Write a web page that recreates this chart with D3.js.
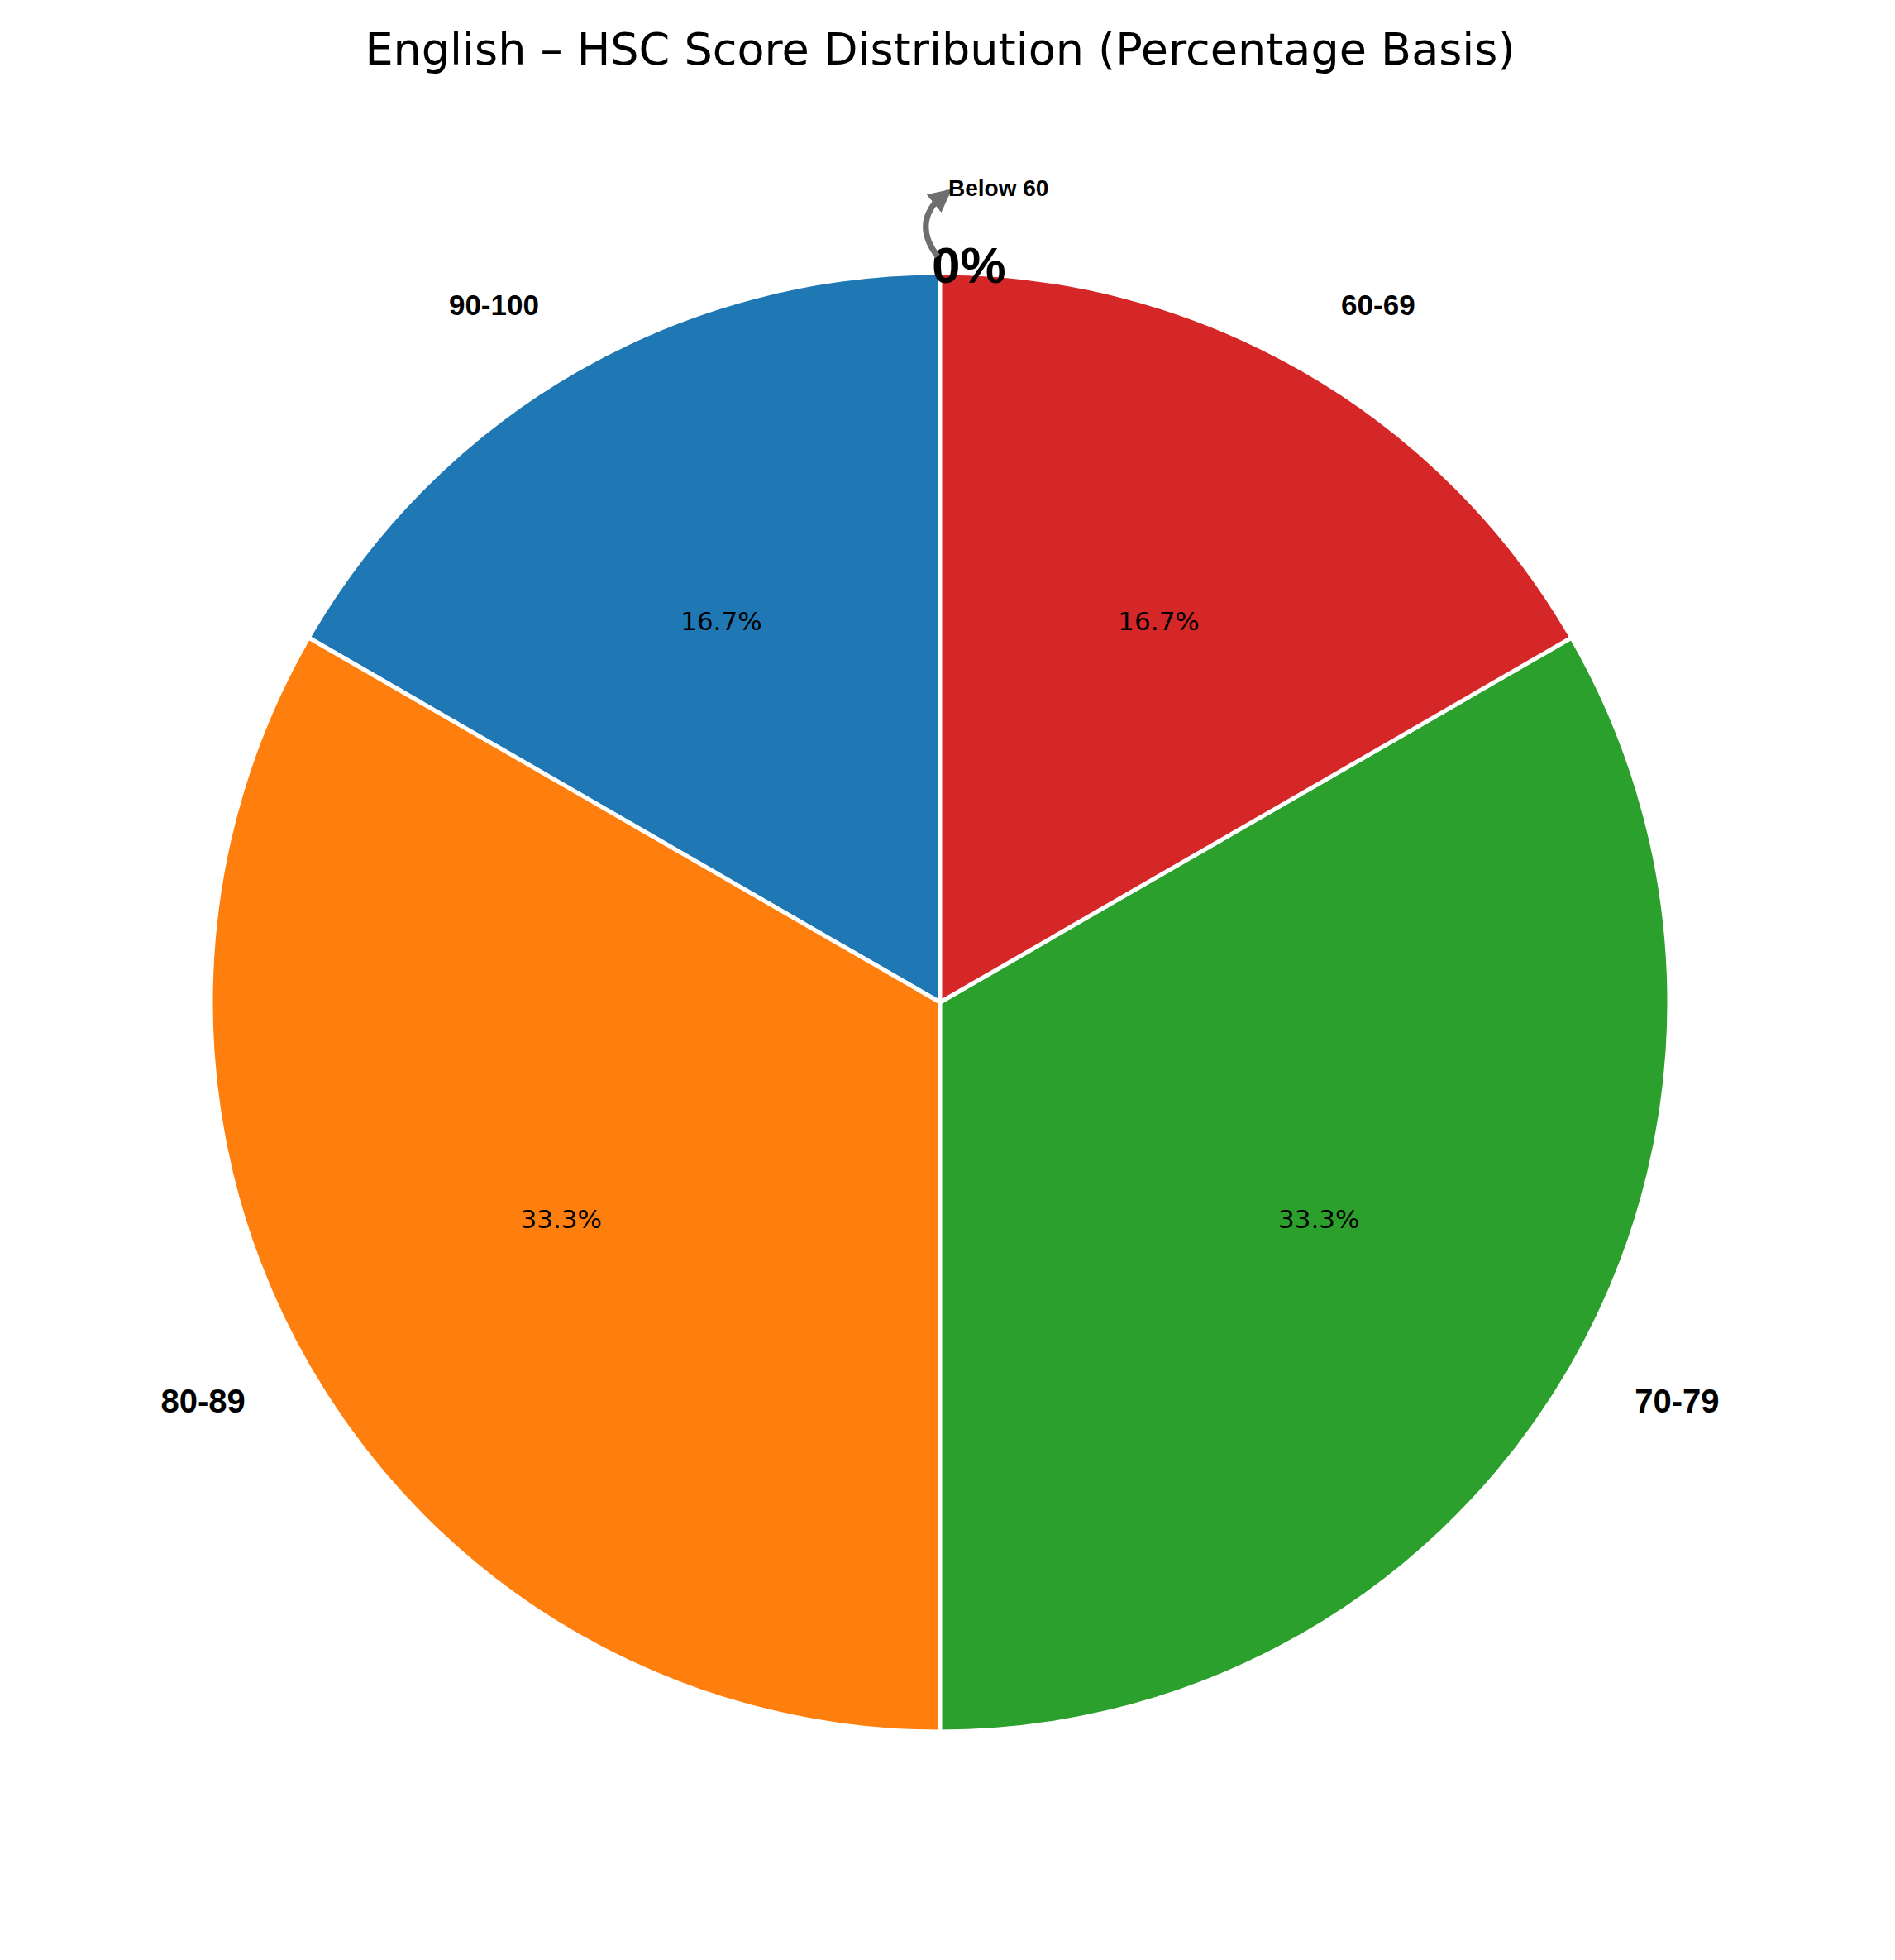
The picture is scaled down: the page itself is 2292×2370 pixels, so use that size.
<!DOCTYPE html>
<html>
<head>
<meta charset="utf-8">
<script src="https://cdn.jsdelivr.net/npm/d3@7"></script>
<style>
  body { margin: 0; background: #fff; }
</style>
</head>
<body>
<div id="chart"></div>
<script>
const categories = ['90-100', '80-89', '70-79', '60-69', 'Below 60'];
const counts = [1, 2, 2, 1, 0];
const colors = ['#1f77b4', '#ff7f0e', '#2ca02c', '#d62728', '#9467bd'];

const W = 2292, H = 2370;
const cx = 1137, cy = 1212, R = 882;
const total = d3.sum(counts);

const svg = d3.select('#chart').append('svg')
    .attr('width', W).attr('height', H);

svg.append('text')
    .attr('x', cx).attr('y', 63)
    .attr('text-anchor', 'middle')
    .attr('dominant-baseline', 'middle')
    .style('font-family', 'DejaVu Sans')
    .style('font-size', '54px')
    .text('English – HSC Score Distribution (Percentage Basis)');

const pie = d3.pie().sort(null).startAngle(0).endAngle(-2 * Math.PI);
const arcs = pie(counts).map((d, i) => Object.assign(d, { name: categories[i], color: colors[i] }));
const arc = d3.arc().innerRadius(0).outerRadius(R);

const g = svg.append('g').attr('transform', `translate(${cx},${cy})`);

g.selectAll('path.slice')
    .data(arcs.filter(d => d.value > 0))
    .join('path')
    .attr('class', 'slice')
    .attr('d', arc)
    .attr('fill', d => d.color)
    .attr('stroke', '#fff')
    .attr('stroke-width', 5)
    .attr('stroke-linejoin', 'round');

function mid(d) { return (d.startAngle + d.endAngle) / 2; }

// percent labels
g.selectAll('text.pct')
    .data(arcs.filter(d => d.value > 0))
    .join('text')
    .attr('class', 'pct')
    .attr('x', d => 0.6 * R * Math.sin(mid(d)))
    .attr('y', d => -0.6 * R * Math.cos(mid(d)))
    .attr('text-anchor', 'middle')
    .attr('dominant-baseline', 'middle')
    .style('font-family', 'DejaVu Sans')
    .style('font-size', '31px')
    .text(d => (d.value / total * 100).toFixed(1) + '%');

// category labels
g.selectAll('text.cat')
    .data(arcs.filter(d => d.value > 0))
    .join('text')
    .attr('class', 'cat')
    .attr('x', d => 1.1 * R * Math.sin(mid(d)))
    .attr('y', d => -1.1 * R * Math.cos(mid(d)))
    .attr('text-anchor', d => Math.sin(mid(d)) < 0 ? 'end' : 'start')
    .attr('dominant-baseline', 'middle')
    .style('font-family', 'Liberation Sans, Arial')
    .style('font-weight', 'bold')
    .style('font-size', d => (d.value === 2 ? 40 : 35) + 'px')
    .text(d => d.name);

// zero slice annotation
const zero = arcs.find(d => d.value === 0);
g.append('text')
    .attr('x', 0).attr('y', -R + 12)
    .attr('dominant-baseline', 'alphabetic')
    .attr('text-anchor', 'start')
    .attr('dx', -10)
    .style('font-family', 'Liberation Sans, Arial')
    .style('font-weight', 'bold')
    .style('font-size', '62px')
    .text('0%');

svg.append('defs').append('marker')
    .attr('id', 'ah').attr('viewBox', '0 0 10 10')
    .attr('refX', 8).attr('refY', 5)
    .attr('markerWidth', 4).attr('markerHeight', 4)
    .attr('orient', 'auto')
    .append('path').attr('d', 'M0,0 L10,5 L0,10 z').attr('fill', '#6e6e6e');

g.append('path')
    .attr('d', `M${-3},${-R - 20} Q${-30},${-R - 55} ${-6},${-R - 85} L${10},${-R - 98}`)
    .attr('fill', 'none')
    .attr('stroke', '#6e6e6e')
    .attr('stroke-width', 7)
    .attr('marker-end', 'url(#ah)');

g.append('text')
    .attr('x', 10).attr('y', -R - 100)
    .attr('dominant-baseline', 'middle')
    .style('font-family', 'Liberation Sans, Arial')
    .style('font-weight', 'bold')
    .style('font-size', '28px')
    .text(zero.name);
</script>
</body>
</html>
